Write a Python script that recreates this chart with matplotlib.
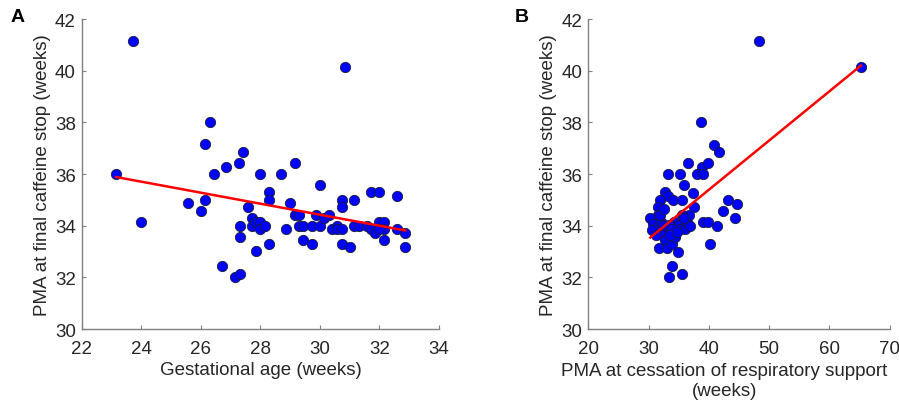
import matplotlib
matplotlib.use("Agg")
import matplotlib.pyplot as plt
import numpy as np

plt.rcParams['font.family'] = ['Liberation Sans', 'DejaVu Sans']

# Panel A: gestational age vs PMA at final caffeine stop
ga_weeks = [23.71, 30.84, 26.29, 26.15, 27.42, 27.28, 26.85, 23.15, 26.44, 28.0,
            28.70, 29.15, 30.0, 28.29, 28.29, 26.15, 25.56, 26.0, 24.0, 27.58,
            29.0, 29.15, 29.30, 27.30, 27.30, 27.71, 27.71, 27.84, 28.0, 28.0,
            28.16, 28.29, 27.84, 26.72, 27.13, 27.30, 28.86, 29.30, 29.44, 29.44,
            29.72, 29.72, 29.87, 30.0, 30.15, 30.29, 30.41, 30.58, 30.58, 30.73,
            30.73, 30.73, 30.73, 31.01, 31.15, 31.15, 31.30, 31.58, 31.72, 31.85,
            31.72, 32.0, 32.0, 32.15, 32.15, 32.15, 32.58, 32.58, 32.87, 32.87,
            32.0]
pma_stop_a = [41.14, 40.14, 38.0, 37.16, 36.86, 36.44, 36.28, 36.0, 36.0, 36.0,
              36.0, 36.44, 35.59, 35.31, 35.01, 35.01, 34.87, 34.57, 34.15, 34.71,
              34.87, 34.43, 34.43, 34.0, 33.58, 34.28, 34.0, 34.15, 34.15, 33.87,
              34.0, 33.30, 33.02, 32.45, 32.01, 32.15, 33.87, 34.0, 34.0, 33.44,
              33.30, 34.0, 34.43, 34.0, 34.28, 34.43, 33.87, 34.0, 33.87, 33.87,
              35.01, 34.71, 33.30, 33.16, 35.01, 34.0, 34.0, 34.0, 33.87, 33.72,
              35.31, 35.31, 34.15, 34.15, 33.44, 33.87, 35.14, 33.87, 33.72, 33.16,
              33.87]

# Panel B: PMA at cessation of respiratory support vs PMA at final caffeine stop
pma_resp = [48.36, 65.23, 38.68, 40.79, 41.73, 36.47, 38.85, 39.79, 33.21, 35.14,
            38.02, 39.02, 35.81, 37.30, 32.71, 33.21, 31.94, 34.09, 35.48, 37.58,
            31.55, 31.55, 43.11, 44.66, 42.28, 44.33, 41.39, 39.02, 39.79, 40.12,
            30.28, 30.72, 31.05, 31.50, 32.05, 32.49, 33.10, 32.21, 32.77, 31.66,
            33.04, 33.87, 34.42, 34.26, 34.98, 35.25, 35.97, 36.36, 36.75, 35.48,
            36.91, 35.81, 34.87, 33.87, 33.32, 35.59, 33.32, 33.87, 30.55, 31.27,
            33.60, 34.70, 31.94, 32.49]
pma_stop_b = [41.14, 40.14, 38.0, 37.13, 36.85, 36.42, 36.28, 36.42, 36.0, 36.0,
              36.0, 36.0, 35.56, 35.28, 35.31, 35.14, 34.98, 35.01, 35.01, 34.71,
              34.71, 34.43, 35.0, 34.86, 34.56, 34.28, 33.99, 34.13, 34.13, 33.29,
              34.28, 34.08, 33.89, 33.99, 34.15, 34.02, 33.83, 33.63, 33.44, 33.14,
              33.14, 33.31, 33.57, 34.15, 34.02, 33.87, 33.87, 34.15, 34.43, 34.43,
              33.99, 34.28, 32.99, 32.44, 32.01, 32.14, 34.02, 33.89, 33.83, 33.63,
              33.63, 33.76, 34.40, 34.66]

y_label = 'PMA at final caffeine stop (weeks)'
axis_grey = '#808080'
text_col = '#262626'
fs = 13.5


def style_axes(ax):
    for side in ['top', 'right']:
        ax.spines[side].set_visible(False)
    for side in ['left', 'bottom']:
        ax.spines[side].set_color(axis_grey)
        ax.spines[side].set_linewidth(1.0)
    ax.tick_params(direction='in', length=3, width=0.8, color=axis_grey,
                   labelsize=fs, labelcolor=text_col)
    ax.tick_params(axis='x', pad=8)
    ax.tick_params(axis='y', pad=4.5)


def scatter_fit(ax, x, y):
    x = np.array(x)
    y = np.array(y)
    ax.scatter(x, y, s=55, c='#0000ff', edgecolors='#1a1a3a', linewidths=0.6, zorder=3)
    slope, icpt = np.polyfit(x, y, 1)
    xs = np.array([x.min(), x.max()])
    ax.plot(xs, slope * xs + icpt, color='#ff0000', lw=1.8, zorder=4)


fig = plt.figure(figsize=(8.99, 4.10), dpi=100)
axA = fig.add_axes([0.0912, 0.195, 0.397, 0.756])
axB = fig.add_axes([0.6545, 0.195, 0.335, 0.756])

scatter_fit(axA, ga_weeks, pma_stop_a)
axA.set_xlim(22, 34)
axA.set_xticks(np.arange(22, 35, 2))
axA.set_ylim(30, 42)
axA.set_yticks(np.arange(30, 43, 2))
axA.set_xlabel('Gestational age (weeks)', fontsize=fs, color=text_col, labelpad=3)
axA.set_ylabel(y_label, fontsize=fs, color=text_col, labelpad=3)
style_axes(axA)

scatter_fit(axB, pma_resp, pma_stop_b)
axB.set_xlim(20, 70)
axB.set_xticks(np.arange(20, 71, 10))
axB.set_ylim(30, 42)
axB.set_yticks(np.arange(30, 43, 2))
axB.set_xlabel('PMA at cessation of respiratory support\n(weeks)', fontsize=fs,
               color=text_col, linespacing=1.25)
axB.xaxis.set_label_coords(0.451, -0.105)
axB.set_ylabel(y_label, fontsize=fs, color=text_col, labelpad=3)
style_axes(axB)

fig.text(0.012, 0.957, 'A', fontsize=14, fontweight='bold', va='center')
fig.text(0.573, 0.957, 'B', fontsize=14, fontweight='bold', va='center')

fig.savefig('out.png', dpi=100)
